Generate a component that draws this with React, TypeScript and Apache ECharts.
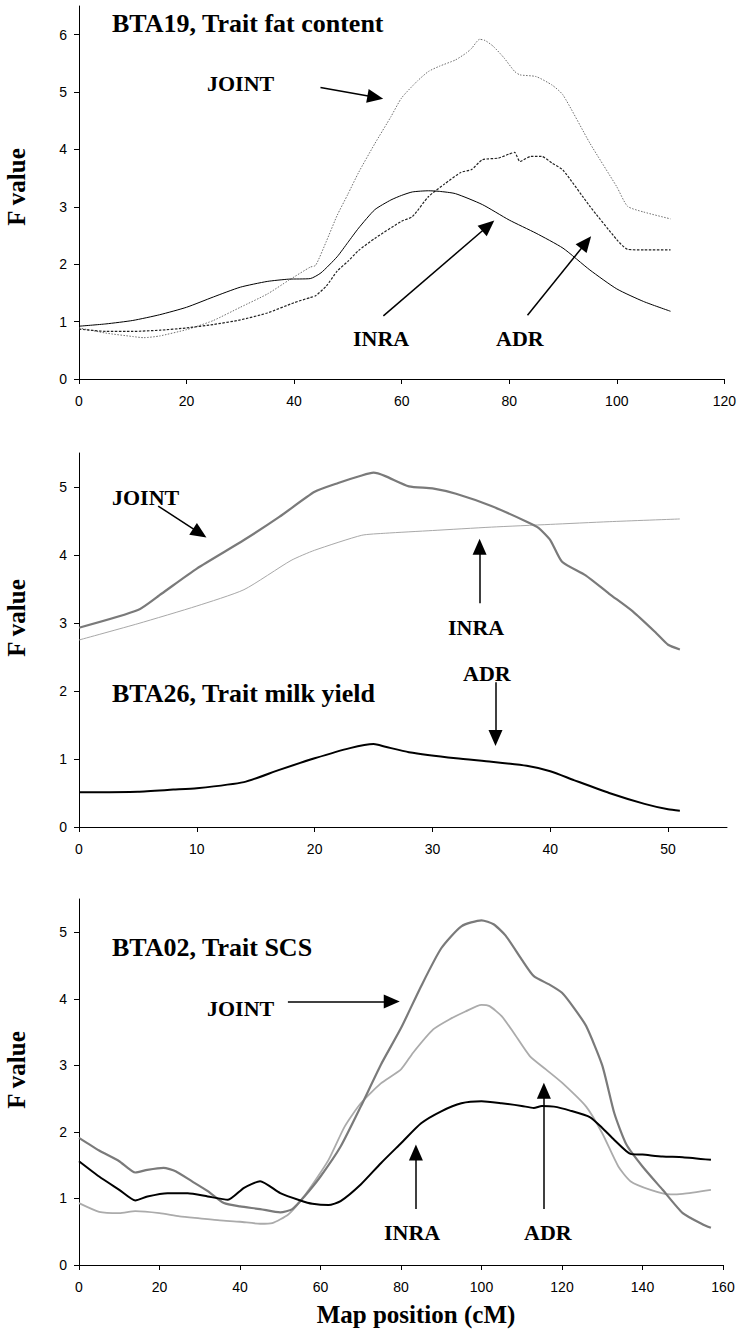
import React, { useEffect, useRef } from "react";
import * as echarts from "echarts";

// ---------- BTA19, fat content ----------
const fatJointX = [0,5,10,12,15,20,22,25,30,35,39,43,44,46,48,50,52,55,58,60,63,65,67,70,72,73,74.5,75.5,77,79,81,82,85,88,90,95,100,102,105,110];
const fatJointY = [0.89,0.80,0.74,0.72,0.75,0.86,0.92,1.02,1.25,1.48,1.72,1.95,1.98,2.40,2.85,3.22,3.60,4.10,4.57,4.90,5.20,5.36,5.45,5.56,5.68,5.76,5.92,5.90,5.80,5.60,5.36,5.30,5.27,5.12,4.95,4.11,3.35,3.01,2.91,2.79];
const fatInraX = [0,5,10,15,20,25,30,35,39,43,45,48,50,52,55,58,60,62,65,67,70,75,80,85,90,95,100,105,110];
const fatInraY = [0.92,0.96,1.02,1.12,1.25,1.43,1.60,1.70,1.74,1.75,1.85,2.13,2.38,2.63,2.95,3.12,3.20,3.26,3.28,3.27,3.23,3.04,2.77,2.54,2.28,1.90,1.57,1.35,1.18];
const fatAdrX = [0,5,10,15,20,25,30,35,40,43,44,46,48,50,52,55,60,62,65,68,71,73,75,78,80,81,82,84,86,88,90,95,100,102,105,110];
const fatAdrY = [0.87,0.83,0.83,0.85,0.89,0.95,1.03,1.15,1.33,1.42,1.45,1.62,1.88,2.05,2.24,2.45,2.75,2.83,3.18,3.40,3.60,3.65,3.82,3.85,3.92,3.95,3.79,3.88,3.88,3.76,3.64,3.01,2.43,2.26,2.25,2.25];

// ---------- BTA26, milk yield ----------
const milkJointX = [0,5,7,10,14,17,20,22,24,25,26,28,30,32,35,38,39,40,41,43,45,47,49,50,51];
const milkJointY = [2.93,3.19,3.43,3.80,4.22,4.56,4.93,5.06,5.17,5.21,5.16,5.01,4.98,4.90,4.72,4.49,4.40,4.22,3.90,3.70,3.43,3.17,2.85,2.68,2.61];
const milkInraX = [0,5,10,14,18,20,24,26,30,35,40,45,51];
const milkInraY = [2.75,2.99,3.25,3.49,3.92,4.07,4.29,4.32,4.36,4.41,4.45,4.49,4.53];
const milkAdrX = [0,5,8,10,14,17,20,23,25,26,28,32,35,38,40,42,45,48,50,51];
const milkAdrY = [0.51,0.52,0.55,0.57,0.66,0.84,1.01,1.16,1.22,1.18,1.10,1.01,0.96,0.90,0.82,0.69,0.50,0.34,0.26,0.24];

// ---------- BTA02, SCS ----------
const scsJointX = [0,5,10,14,17,21,24,28,32,36,40,45,50,53,56,60,65,70,75,80,85,90,95,100,103,106,110,113,117,120,123,126,130,133,136,140,145,150,155,157];
const scsJointY = [1.91,1.72,1.56,1.39,1.43,1.46,1.41,1.26,1.11,0.93,0.88,0.84,0.79,0.84,1.03,1.33,1.78,2.38,3.01,3.56,4.19,4.76,5.09,5.18,5.12,4.95,4.59,4.34,4.21,4.09,3.86,3.59,3.00,2.28,1.81,1.48,1.13,0.78,0.61,0.56];
const scsInraX = [0,5,10,14,20,25,30,35,40,45,48,52,55,58,62,66,70,75,80,83,88,92,96,100,102,105,108,112,116,120,126,130,134,137,142,147,150,157];
const scsInraY = [0.93,0.80,0.78,0.81,0.78,0.73,0.70,0.67,0.65,0.62,0.63,0.76,0.96,1.21,1.58,2.08,2.43,2.73,2.94,3.19,3.54,3.69,3.81,3.91,3.89,3.74,3.49,3.14,2.94,2.74,2.38,1.98,1.48,1.26,1.13,1.06,1.07,1.13];
const scsAdrX = [0,5,10,14,17,22,27,32,37,41,45,50,55,58,62,65,70,75,80,85,90,95,100,105,110,113,115,118,122,127,130,133,137,140,145,150,157];
const scsAdrY = [1.56,1.33,1.13,0.97,1.03,1.08,1.08,1.03,0.98,1.16,1.26,1.08,0.97,0.92,0.90,0.96,1.21,1.53,1.83,2.13,2.31,2.43,2.46,2.43,2.39,2.36,2.39,2.38,2.32,2.22,2.06,1.88,1.67,1.66,1.63,1.62,1.58];

// ---------- axis ticks ----------
const fatXTicks = [0,20,40,60,80,100,120];
const fatYTicks = [0,1,2,3,4,5,6];
const milkXTicks = [0,10,20,30,40,50];
const milkYTicks = [0,1,2,3,4,5];
const scsXTicks = [0,20,40,60,80,100,120,140,160];
const scsYTicks = [0,1,2,3,4,5];

// ---------- arrows (data coordinates: [start, end]) ----------
const fatArrows = [
  [[44.9, 5.08], [55.1, 4.91]],
  [[56.6, 1.10], [76.1, 2.67]],
  [[83.4, 1.11], [94.3, 2.38]],
];
const milkArrows = [
  [[6.72, 4.72], [10.25, 4.32]],
  [[34.0, 3.29], [34.0, 4.12]],
  [[35.35, 2.13], [35.35, 1.31]],
];
const scsArrows = [
  [[51.9, 3.96], [77.7, 3.96]],
  [[83.7, 0.84], [83.7, 1.69]],
  [[115.5, 0.84], [115.5, 2.62]],
];

const pairs = (xs: number[], ys: number[]) => xs.map((x, i) => [x, ys[i]]);

const SANS = '"Liberation Sans", Arial, sans-serif';
const SERIF = '"Liberation Serif", "Times New Roman", serif';

function makeX(idx: number, max: number, ticks: number[]) {
  return {
    type: "value",
    gridIndex: idx,
    min: 0,
    max,
    axisLine: { show: true, onZero: false, lineStyle: { color: "#000", width: 1 } },
    axisTick: { show: true, length: 5, customValues: ticks, lineStyle: { color: "#000", width: 1 } },
    axisLabel: { customValues: ticks, margin: 15, fontSize: 14, fontFamily: SANS, color: "#000" },
    splitLine: { show: false },
  };
}
function makeY(idx: number, max: number, ticks: number[]) {
  return {
    type: "value",
    gridIndex: idx,
    min: 0,
    max,
    axisLine: { show: true, onZero: false, lineStyle: { color: "#000", width: 1 } },
    axisTick: { show: true, length: 5, customValues: ticks, lineStyle: { color: "#000", width: 1 } },
    axisLabel: { customValues: ticks, margin: 12, fontSize: 14, fontFamily: SANS, color: "#000" },
    splitLine: { show: false },
  };
}

function arrowMark(arrows: number[][][]) {
  return {
    silent: true,
    symbol: ["none", "triangle"],
    symbolSize: [14, 16],
    lineStyle: { color: "#000", width: 1.5, type: "solid" },
    itemStyle: { color: "#000" },
    label: { show: false },
    emphasis: { disabled: true },
    data: arrows.map((a) => [{ coord: a[0] }, { coord: a[1] }]),
  };
}

function line(name: string, idx: number, xs: number[], ys: number[], color: string, width: number, type: any, extra: any = {}) {
  return {
    name,
    type: "line",
    xAxisIndex: idx,
    yAxisIndex: idx,
    data: pairs(xs, ys),
    showSymbol: false,
    smooth: 0.2,
    lineStyle: { color, width, type },
    itemStyle: { color },
    silent: true,
    ...extra,
  };
}

function txt(text: string, x: number, y: number, size: number, align = "left", rotation = 0) {
  return {
    type: "text",
    x,
    y,
    rotation,
    style: {
      text,
      font: `bold ${size}px ${SERIF}`,
      fill: "#000",
      textAlign: align,
      textVerticalAlign: "middle",
    },
  };
}

export default function App() {
  const ref = useRef<HTMLDivElement>(null);
  useEffect(() => {
    const chart = echarts.init(ref.current!, null, { renderer: "svg" });
    const option = {
      animation: false,
      backgroundColor: "#fff",
      grid: [
        { left: 79, right: 14, top: 6, height: 373 },
        { left: 79, right: 12, top: 453, height: 374 },
        { left: 79, right: 16, top: 899, height: 366 },
      ],
      xAxis: [makeX(0, 120, fatXTicks), makeX(1, 55, milkXTicks), makeX(2, 160, scsXTicks)],
      yAxis: [makeY(0, 6.5, fatYTicks), makeY(1, 5.5, milkYTicks), makeY(2, 5.5, scsYTicks)],
      series: [
        line("JOINT", 0, fatJointX, fatJointY, "#6e6e6e", 1, [1.5, 1.5], { markLine: arrowMark(fatArrows) }),
        line("ADR", 0, fatAdrX, fatAdrY, "#222", 1.2, [2.5, 1.5]),
        line("INRA", 0, fatInraX, fatInraY, "#000", 1, "solid"),
        line("INRA", 1, milkInraX, milkInraY, "#a8a8a8", 1, "solid", { markLine: arrowMark(milkArrows) }),
        line("JOINT", 1, milkJointX, milkJointY, "#7a7a7a", 2.2, "solid"),
        line("ADR", 1, milkAdrX, milkAdrY, "#000", 2, "solid"),
        line("INRA", 2, scsInraX, scsInraY, "#ababab", 1.8, "solid", { markLine: arrowMark(scsArrows) }),
        line("JOINT", 2, scsJointX, scsJointY, "#7a7a7a", 2.2, "solid"),
        line("ADR", 2, scsAdrX, scsAdrY, "#000", 2, "solid"),
      ],
      graphic: [
        txt("BTA19, Trait fat content", 112, 23, 26),
        txt("JOINT", 207, 83, 22),
        txt("INRA", 353, 338, 22),
        txt("ADR", 496, 338, 22),
        txt("BTA26, Trait milk yield", 112, 693, 26),
        txt("JOINT", 112, 497, 22),
        txt("INRA", 448, 627, 22),
        txt("ADR", 463, 673, 22),
        txt("BTA02, Trait SCS", 112, 947, 26),
        txt("JOINT", 207, 1008, 22),
        txt("INRA", 384, 1232, 22),
        txt("ADR", 524, 1232, 22),
        txt("F value", 16, 187, 25, "center", Math.PI / 2),
        txt("F value", 16, 618, 25, "center", Math.PI / 2),
        txt("F value", 16, 1070, 25, "center", Math.PI / 2),
        txt("Map position (cM)", 416, 1314, 25, "center"),
      ],
    };
    chart.setOption(option as any);
    return () => chart.dispose();
  }, []);
  return (
    <div
      ref={ref}
      style={{ position: "absolute", left: 0, top: 0, width: 739, height: 1332, background: "#fff" }}
    />
  );
}
